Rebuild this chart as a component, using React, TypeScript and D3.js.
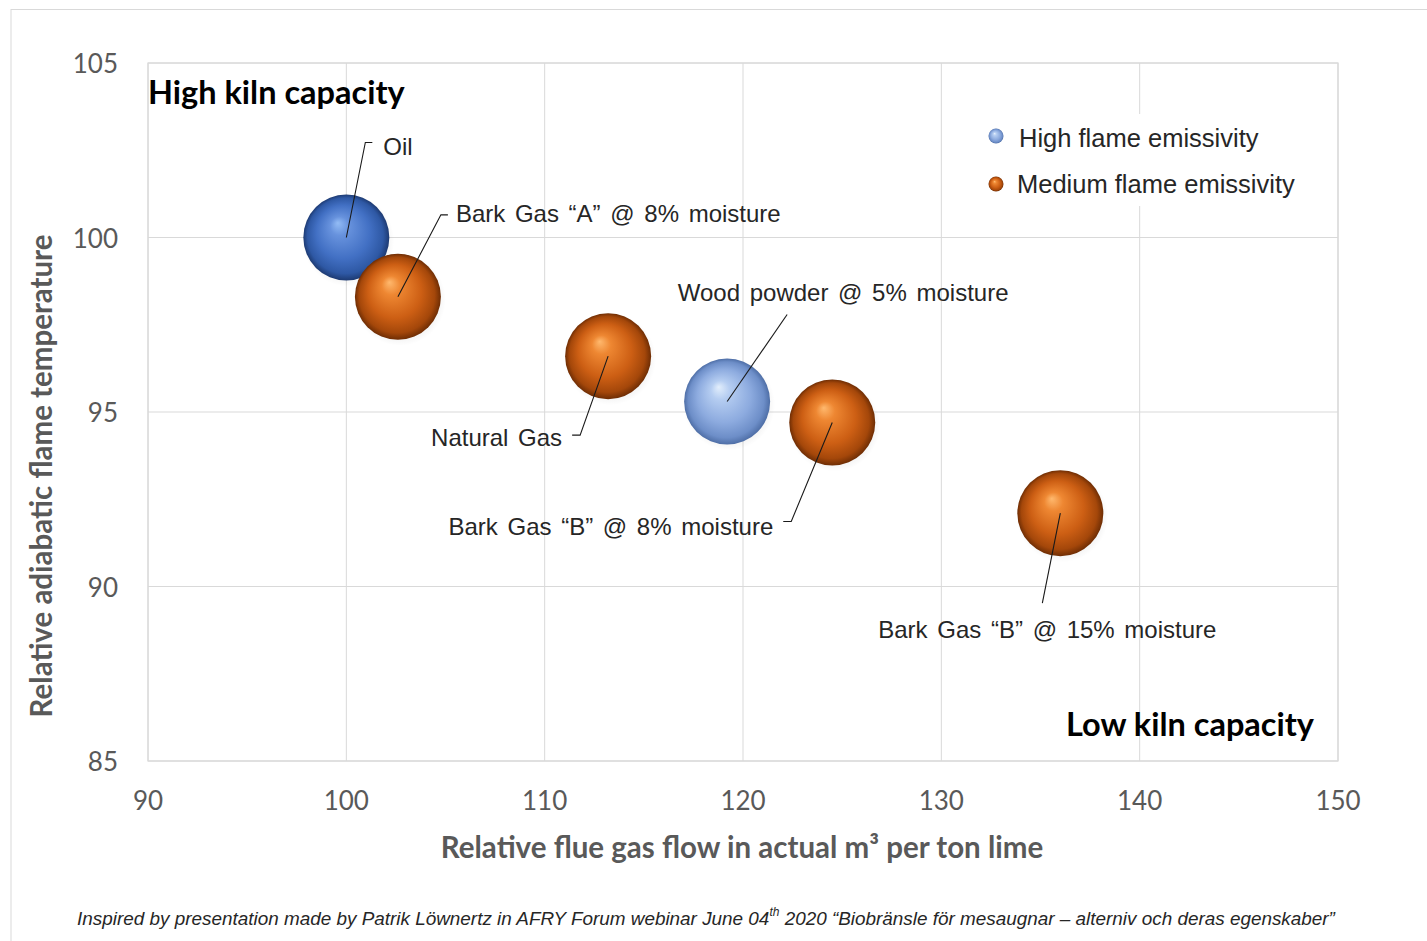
import React from "react";
import * as d3 from "d3";

// ---------- data ----------
const fuels = [
  "Oil",
  "Bark Gas “A” @ 8% moisture",
  "Natural Gas",
  "Wood powder @ 5% moisture",
  "Bark Gas “B” @ 8% moisture",
  "Bark Gas “B” @ 15% moisture",
];
const flueGasFlow = [100, 102.6, 113.2, 119.2, 124.5, 136.0];
const flameTemp = [100, 98.3, 96.6, 95.3, 94.7, 92.1];
const bubbleSize = [1, 1, 1, 1, 1, 1];
const emissivity = ["High", "Medium", "Medium", "High", "Medium", "Medium"];
const legendItems = ["High flame emissivity", "Medium flame emissivity"];
const xTicks = [90, 100, 110, 120, 130, 140, 150];
const yTicks = [85, 90, 95, 100, 105];

// ---------- layout / style (not data) ----------
const W = 1427;
const H = 941;
const plot = { left: 148, right: 1338, top: 63, bottom: 761 };

// per-label leader layout (pixel offsets from bubble centre)
const labelLayout = [
  { lx: 19, ly: -95, tick: 7, tx: 37, ty: -91, anchor: "start" },
  { lx: 43, ly: -82, tick: 7, tx: 58, ty: -83, anchor: "start" },
  { lx: -28, ly: 79, tick: -8, tx: -46, ty: 81, anchor: "end" },
  { lx: 60, ly: -87, tick: 0, tx: 116, ty: -109, anchor: "middle" },
  { lx: -41, ly: 99, tick: -8, tx: -59, ty: 104, anchor: "end" },
  { lx: -18, ly: 90, tick: 0, tx: -13, ty: 116, anchor: "middle" },
];

const gradients: Record<string, string[]> = {
  oil: ["#93bcf5", "#6792dd", "#4270c4", "#2e58a4", "#1d3a72"],
  high: ["#e2eefc", "#b5cdf1", "#8dabdf", "#6d8ec8", "#4e6ea6"],
  medium: ["#ffb96e", "#ee8732", "#cd5f14", "#a4470a", "#6e2d04"],
};

function gradFor(i: number) {
  if (i === 0) return "url(#g-oil)";
  return emissivity[i] === "High" ? "url(#g-high)" : "url(#g-medium)";
}

const tickFont = "Lato, 'Open Sans', sans-serif";
const labelFont = "'Liberation Sans', Arial, sans-serif";

export default function App() {
  const x = d3.scaleLinear().domain([90, 150]).range([plot.left, plot.right]);
  const y = d3.scaleLinear().domain([85, 105]).range([plot.bottom, plot.top]);
  const r = d3.scaleSqrt().domain([0, 1]).range([0, 43]);

  return (
    <svg
      width={W}
      height={H}
      style={{ position: "absolute", left: 0, top: 0, background: "#fff" }}
    >
      <defs>
        {Object.entries(gradients).map(([k, c]) => (
          <radialGradient key={k} id={`g-${k}`} cx="50%" cy="50%" r="50%" fx="40%" fy="33%">
            <stop offset="0%" stopColor={c[0]} />
            <stop offset="22%" stopColor={c[1]} />
            <stop offset="62%" stopColor={c[2]} />
            <stop offset="88%" stopColor={c[3]} />
            <stop offset="100%" stopColor={c[4]} />
          </radialGradient>
        ))}
        <radialGradient id="shadow" cx="50%" cy="50%" r="50%">
          <stop offset="70%" stopColor="#000" stopOpacity={0.08} />
          <stop offset="100%" stopColor="#000" stopOpacity={0} />
        </radialGradient>
      </defs>

      {/* outer frame */}
      <rect x={11} y={9.5} width={W + 20} height={H + 20} fill="#fff" stroke="#d9d9d9" strokeWidth={1} />

      {/* gridlines */}
      {xTicks.map((t) => (
        <line key={"gx" + t} x1={x(t)} x2={x(t)} y1={plot.top} y2={plot.bottom} stroke="#d9d9d9" strokeWidth={1} />
      ))}
      {yTicks.map((t) => (
        <line key={"gy" + t} x1={plot.left} x2={plot.right} y1={y(t)} y2={y(t)} stroke="#d9d9d9" strokeWidth={1} />
      ))}
      <rect
        x={plot.left}
        y={plot.top}
        width={plot.right - plot.left}
        height={plot.bottom - plot.top}
        fill="none"
        stroke="#d9d9d9"
        strokeWidth={1.2}
      />

      {/* tick labels */}
      {xTicks.map((t) => (
        <text key={"tx" + t} x={x(t)} y={800} textAnchor="middle" dominantBaseline="central"
          fontFamily={tickFont} fontSize={26} fill="#595959">{t}</text>
      ))}
      {yTicks.map((t) => (
        <text key={"ty" + t} x={118} y={y(t)} textAnchor="end" dominantBaseline="central"
          fontFamily={tickFont} fontSize={26} fill="#595959">{t}</text>
      ))}

      {/* axis titles */}
      <text x={742} y={846} textAnchor="middle" dominantBaseline="central"
        fontFamily={tickFont} fontWeight={700} fontSize={29.5} fill="#595959">
        Relative flue gas flow in actual m³ per ton lime
      </text>
      <text transform="translate(40,476) rotate(-90)" textAnchor="middle" dominantBaseline="central"
        fontFamily={tickFont} fontWeight={700} fontSize={29.5} fill="#595959">
        Relative adiabatic flame temperature
      </text>

      {/* corner annotations */}
      <text x={148} y={91} dominantBaseline="central" fontFamily={tickFont} fontWeight={700}
        fontSize={32.5} fill="#000">High kiln capacity</text>
      <text x={1314} y={723} textAnchor="end" dominantBaseline="central" fontFamily={tickFont}
        fontWeight={700} fontSize={32.5} fill="#000">Low kiln capacity</text>

      {/* legend */}
      <rect x={985} y={114} width={320} height={92} fill="#fff" />
      {legendItems.map((l, i) => (
        <g key={l}>
          <circle cx={996} cy={136 + i * 48} r={7.5}
            fill={i === 0 ? "url(#g-high)" : "url(#g-medium)"} />
          <text x={i === 0 ? 1019 : 1017} y={138 + i * 46} dominantBaseline="central"
            fontFamily={labelFont} fontSize={25.5} fill="#262626">{l}</text>
        </g>
      ))}

      {/* bubbles */}
      {fuels.map((f, i) => (
        <g key={f}>
          <circle cx={x(flueGasFlow[i]) + 2} cy={y(flameTemp[i]) + 3} r={r(bubbleSize[i]) + 3} fill="url(#shadow)" />
          <circle cx={x(flueGasFlow[i])} cy={y(flameTemp[i])} r={r(bubbleSize[i])} fill={gradFor(i)} />
        </g>
      ))}

      {/* leader lines + labels */}
      {fuels.map((f, i) => {
        const cx = x(flueGasFlow[i]);
        const cy = y(flameTemp[i]);
        const L = labelLayout[i];
        const ex = cx + L.lx;
        const ey = cy + L.ly;
        const pts = L.tick !== 0
          ? `${cx},${cy} ${ex},${ey} ${ex + L.tick},${ey}`
          : `${cx},${cy} ${ex},${ey}`;
        return (
          <g key={"l" + f}>
            <polyline points={pts} fill="none" stroke="#1a1a1a" strokeWidth={1.1} />
            <text x={cx + L.tx} y={cy + L.ty} textAnchor={L.anchor as any} dominantBaseline="central"
              fontFamily={labelFont} fontSize={24} fill="#262626" style={{ wordSpacing: "3px" }}>{f}</text>
          </g>
        );
      })}

      {/* footer */}
      <text x={706} y={918} textAnchor="middle" dominantBaseline="central" fontFamily={labelFont}
        fontStyle="italic" fontSize={18.9} fill="#262626">
        Inspired by presentation made by Patrik Löwnertz in AFRY Forum webinar June 04
        <tspan fontSize={12} dy={-6}>th</tspan>
        <tspan dy={6}> 2020 “Biobränsle för mesaugnar – alterniv och deras egenskaber”</tspan>
      </text>
    </svg>
  );
}
